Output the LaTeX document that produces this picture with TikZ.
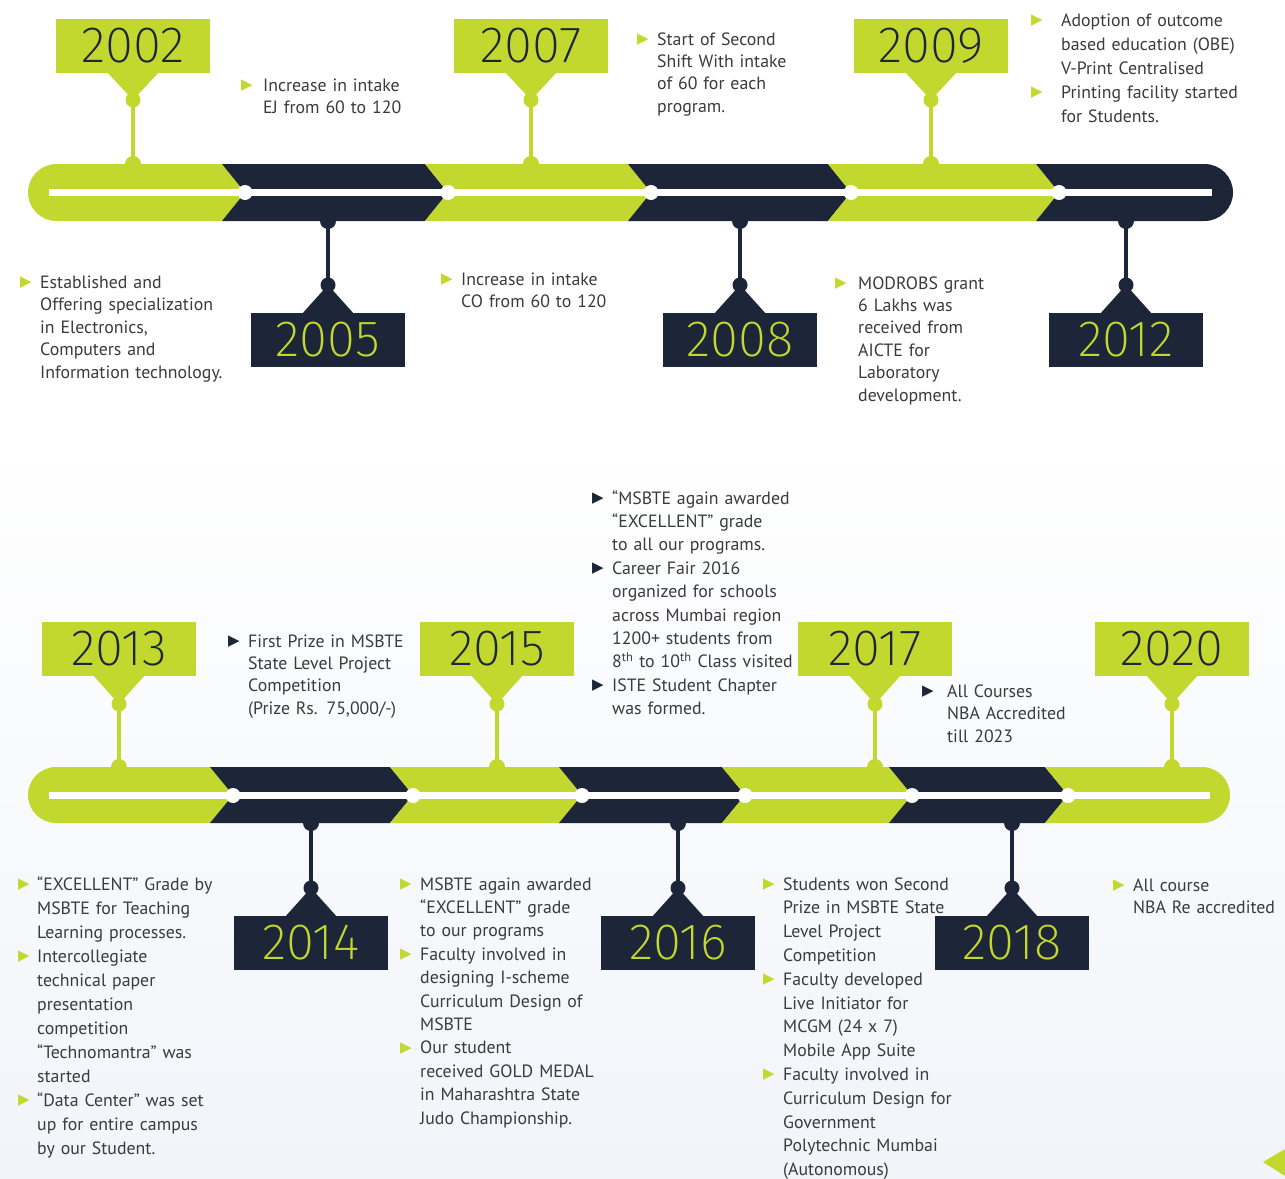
\documentclass[tikz,border=0pt]{standalone}
\usepackage{fontspec}
\setmainfont{PT Sans}
\newfontfamily\yearfont{Fira Sans ExtraLight}
\newfontfamily\bulfont{DejaVu Sans}
\usepackage{xcolor}

\definecolor{limeG}{HTML}{C3D82E}
\definecolor{navyD}{HTML}{1D2539}
\definecolor{txtG}{HTML}{3B3B3B}
\definecolor{bgBlue}{HTML}{F1F4F9}

% one bullet item with hanging indent
\newcommand{\bitem}[3][20pt]{{\let\\\newline\noindent\hangindent=#1\hangafter=1%
  \makebox[#1][l]{\raisebox{1.5pt}{\textcolor{#2}{\bulfont\fontsize{15}{15}\selectfont ▶}}}#3\par}}

\begin{document}
\begin{tikzpicture}[x=1pt, y=-1pt,
  yearbox/.style={minimum width=154pt, minimum height=54pt, inner sep=0pt,
    font=\yearfont\fontsize{51}{51}\selectfont},
  yearup/.style={yearbox, fill=limeG, text=navyD},
  yeardown/.style={yearbox, fill=navyD, text=limeG},
  stem/.style={line width=4pt},
  note/.style={anchor=base west, inner sep=0pt, text width=300pt,
    text=txtG, font=\fontsize{17.8}{#1}\selectfont},
  note/.default=23.3]
  \useasboundingbox (0,0) rectangle (1285,1178);
  \fill[white] (0,0) rectangle (1285,1178);
  \fill[top color=white, bottom color=bgBlue] (0,430) rectangle (1285,1178);
  \fill[limeG] (1263,1162) -- (1285,1149) -- (1285,1176) -- cycle;

  % first timeline: stems
  \foreach \x/\yr in {133/2002, 531/2007, 931/2009} {
    \node[yearup] (y\yr) at (\x,46) {\yr};
    \coordinate (d\yr) at (\x,100);
    \coordinate (b\yr) at (\x,164);
    \fill[limeG] ([xshift=-25pt]y\yr.south) -- ([xshift=25pt]y\yr.south) -- (d\yr) -- cycle;
    \draw[stem, limeG] (d\yr) -- (b\yr);
    \fill[limeG] (d\yr) circle (7.5pt) (b\yr) circle (8pt);
  }
  \foreach \x/\yr in {328/2005, 740/2008, 1126/2012} {
    \node[yeardown] (y\yr) at (\x,340) {\yr};
    \coordinate (d\yr) at (\x,285);
    \coordinate (b\yr) at (\x,221);
    \fill[navyD] ([xshift=-25pt]y\yr.north) -- ([xshift=25pt]y\yr.north) -- (d\yr) -- cycle;
    \draw[stem, navyD] (b\yr) -- (d\yr);
    \fill[navyD] (d\yr) circle (7.5pt) (b\yr) circle (8pt);
  }
  % first timeline: bar
  \begin{scope}
    \clip[rounded corners=28.5pt] (28,164) rectangle (1233,221);
    \fill[limeG] (0,164) -- (222,164) -- (245,192.5) -- (222,221) -- (0,221) -- cycle;
    \foreach \a/\b/\c in {245/448/navyD, 448/651/limeG, 651/851/navyD, 851/1059/limeG, 1059/1400/navyD}
      \fill[\c] (\a-23,164) -- (\b-23,164) -- (\b,192.5) -- (\b-23,221) -- (\a-23,221) -- (\a,192.5) -- cycle;
  \end{scope}
  \fill[white] (49,189) rectangle (1212,196);
  \foreach \x in {245,448,651,851,1059}
    \fill[white] (\x,192.5) circle (7.5pt);

  % second timeline: stems
  \foreach \x/\yr in {119/2013, 497/2015, 875/2017, 1172/2020} {
    \node[yearup] (y\yr) at (\x,649) {\yr};
    \coordinate (d\yr) at (\x,704);
    \coordinate (b\yr) at (\x,767);
    \fill[limeG] ([xshift=-25pt]y\yr.south) -- ([xshift=25pt]y\yr.south) -- (d\yr) -- cycle;
    \draw[stem, limeG] (d\yr) -- (b\yr);
    \fill[limeG] (d\yr) circle (7.5pt) (b\yr) circle (8pt);
  }
  \foreach \x/\yr in {311/2014, 678/2016, 1012/2018} {
    \node[yeardown] (y\yr) at (\x,943) {\yr};
    \coordinate (d\yr) at (\x,888);
    \coordinate (b\yr) at (\x,823);
    \fill[navyD] ([xshift=-25pt]y\yr.north) -- ([xshift=25pt]y\yr.north) -- (d\yr) -- cycle;
    \draw[stem, navyD] (b\yr) -- (d\yr);
    \fill[navyD] (d\yr) circle (7.5pt) (b\yr) circle (8pt);
  }
  % second timeline: bar
  \begin{scope}
    \clip[rounded corners=28pt] (28,767) rectangle (1230,823);
    \fill[limeG] (0,767) -- (210,767) -- (233,795) -- (210,823) -- (0,823) -- cycle;
    \foreach \a/\b/\c in {233/413/navyD, 413/582/limeG, 582/745/navyD, 745/912/limeG, 912/1068/navyD, 1068/1400/limeG}
      \fill[\c] (\a-23,767) -- (\b-23,767) -- (\b,795) -- (\b-23,823) -- (\a-23,823) -- (\a,795) -- cycle;
  \end{scope}
  \fill[white] (49,792) rectangle (1210,799);
  \foreach \x in {233,413,582,745,912,1068}
    \fill[white] (\x,795.5) circle (7.5pt);

  % texts, first timeline
  \node[note=22.2] (tIntakeEJ) at (241,91) {\bitem[22pt]{limeG}{Increase in intake\\EJ from 60 to 120}};
  \node[note=22.4] (tSecondShift) at (637,45) {\bitem{limeG}{Start of Second\\Shift With intake\\of 60 for each\\program.}};
  \node[note=24] (tOBE) at (1031,26) {\bitem[30pt]{limeG}{Adoption of outcome\\based education (OBE)\\V-Print Centralised}%
    \bitem[30pt]{limeG}{Printing facility started\\for Students.}};
  \node[note=22.5] (tEstablished) at (20,288) {\bitem{limeG}{Established and\\Offering specialization\\in Electronics,\\Computers and\\Information technology.}};
  \node[note=22.2] (tIntakeCO) at (441,285) {\bitem{limeG}{Increase in intake\\CO from 60 to 120}};
  \node[note=22.4] (tModrobs) at (835,289) {\bitem[23pt]{limeG}{MODROBS grant\\6 Lakhs was\\received from\\AICTE for\\Laboratory\\development.}};

  % texts, second timeline
  \node[note=23.4] (tAwards) at (592,504) {\bitem{navyD}{“MSBTE again awarded\\“EXCELLENT” grade\\to all our programs.}%
    \bitem{navyD}{Career Fair 2016\\organized for schools\\across Mumbai region\\1200+ students from\\8\textsuperscript{th} to 10\textsuperscript{th} Class visited}%
    \bitem{navyD}{ISTE Student Chapter\\was formed.}};
  \node[note=22.4] (tFirstPrize) at (228,647) {\bitem{navyD}{First Prize in MSBTE\\State Level Project\\Competition\\(Prize Rs. 75,000/-)}};
  \node[note=22.5] (tNBA) at (922,697) {\bitem[25pt]{navyD}{All Courses\\NBA Accredited\\till 2023}};
  \node[note=24] (tExcellent) at (18,890) {\bitem[19pt]{limeG}{“EXCELLENT” Grade by\\MSBTE for Teaching\\Learning processes.}%
    \bitem[19pt]{limeG}{Intercollegiate\\technical paper\\presentation\\competition\\“Technomantra” was\\started}%
    \bitem[19pt]{limeG}{“Data Center” was set\\up for entire campus\\by our Student.}};
  \node[note=23.4] (tGold) at (400,890) {\bitem{limeG}{MSBTE again awarded\\“EXCELLENT” grade\\to our programs}%
    \bitem{limeG}{Faculty involved in\\designing I-scheme\\Curriculum Design of\\MSBTE}%
    \bitem{limeG}{Our student\\received GOLD MEDAL\\in Maharashtra State\\Judo Championship.}};
  \node[note=23.8] (tSecondPrize) at (763,890) {\bitem{limeG}{Students won Second\\Prize in MSBTE State\\Level Project\\Competition}%
    \bitem{limeG}{Faculty developed\\Live Initiator for\\MCGM (24 x 7)\\Mobile App Suite}%
    \bitem{limeG}{Faculty involved in\\Curriculum Design for\\Government\\Polytechnic Mumbai\\(Autonomous)}};
  \node[note=22.4] (tReacc) at (1113,891) {\bitem{limeG}{All course\\NBA Re accredited}};
\end{tikzpicture}
\end{document}
